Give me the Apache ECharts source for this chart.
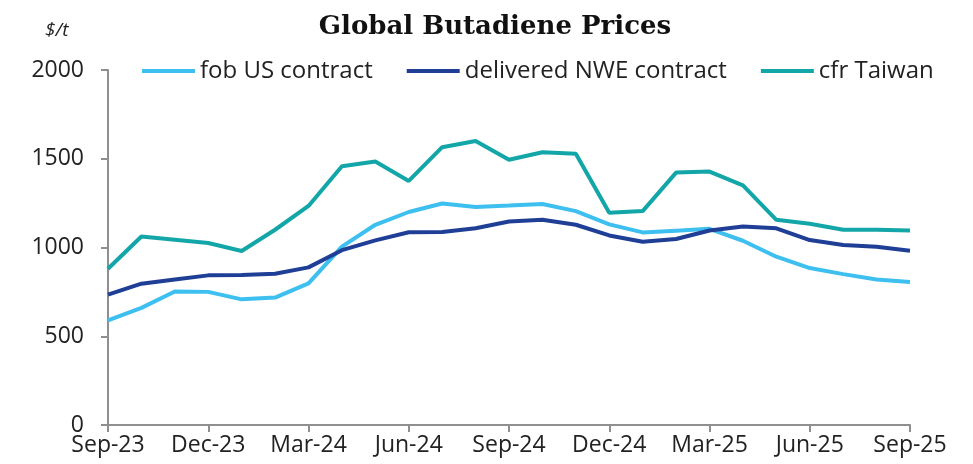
<!DOCTYPE html>
<html>
<head>
<meta charset="utf-8">
<title>Global Butadiene Prices</title>
<script src="https://cdn.jsdelivr.net/npm/echarts@6/dist/echarts.min.js"></script>
<style>
	html, body { margin: 0; padding: 0; background: #fff; }
	#chart { width: 973px; height: 464px; }
</style>
</head>
<body>
<div id="chart"></div>
<script>
// monthly, Sep-23 .. Sep-25
var months = ['Sep-23', 'Oct-23', 'Nov-23', 'Dec-23', 'Jan-24', 'Feb-24', 'Mar-24', 'Apr-24', 'May-24',
	'Jun-24', 'Jul-24', 'Aug-24', 'Sep-24', 'Oct-24', 'Nov-24', 'Dec-24', 'Jan-25', 'Feb-25', 'Mar-25',
	'Apr-25', 'May-25', 'Jun-25', 'Jul-25', 'Aug-25', 'Sep-25'];

var fobUS = [590, 660, 752, 750, 708, 718, 798, 1005, 1128, 1200, 1248, 1228, 1236, 1245, 1205,
	1130, 1085, 1095, 1105, 1038, 948, 884, 850, 820, 806];
var nweContract = [735, 796, 820, 843, 845, 852, 888, 985, 1040, 1086, 1087, 1108, 1146, 1156, 1128,
	1068, 1032, 1048, 1096, 1118, 1108, 1042, 1014, 1004, 982];
var cfrTaiwan = [880, 1062, 1044, 1025, 980, 1100, 1234, 1458, 1484, 1375, 1565, 1600, 1494, 1537, 1528,
	1196, 1205, 1422, 1428, 1350, 1156, 1134, 1100, 1100, 1096];

var seriesNames = ['fob US contract', 'delivered NWE contract', 'cfr Taiwan'];
var seriesColors = ['#3dbff0', '#1f3f96', '#13a6a8'];

var yTicks = [0, 500, 1000, 1500, 2000];

function initEchart(id, option) {
	var _echart = echarts.init(document.getElementById(id));
	_echart.setOption(option);
	return _echart;
}

function lineSeries(name, data, color) {
	return {
		name: name,
		type: 'line',
		data: data,
		symbol: 'none',
		smooth: false,
		lineStyle: { color: color, width: 4 },
		itemStyle: { color: color }
	};
}

var axisGrey = '#8f8f8f';
var labelFont = '"Open Sans", "Noto Sans", sans-serif';

var option = {
	animation: false,
	backgroundColor: '#fff',
	title: [{
		text: 'Global Butadiene Prices',
		left: 490,
		textAlign: 'center',
		top: 9,
		textStyle: {
			fontFamily: '"DejaVu Serif", serif',
			fontWeight: 'bold',
			fontSize: 26,
			color: '#111'
		}
	}, {
		text: '$/t',
		left: 40,
		top: 16,
		textStyle: {
			fontFamily: labelFont,
			fontStyle: 'italic',
			fontWeight: 'normal',
			fontSize: 19,
			color: '#222'
		}
	}],
	legend: {
		left: 137,
		top: 54,
		icon: 'rect',
		itemWidth: 53,
		itemHeight: 4,
		itemGap: 34,
		textStyle: { fontFamily: labelFont, fontSize: 24, color: '#222' },
		data: seriesNames
	},
	grid: { left: 108, right: 63, top: 70, bottom: 39, containLabel: false },
	xAxis: {
		type: 'category',
		data: months,
		boundaryGap: false,
		axisLine: { lineStyle: { color: axisGrey, width: 2 } },
		axisTick: { show: true, interval: 2, length: 7, lineStyle: { color: axisGrey, width: 2 } },
		axisLabel: {
			interval: 2,
			margin: 9,
			fontFamily: labelFont,
			fontSize: 23,
			color: '#222'
		},
		splitLine: { show: false }
	},
	yAxis: {
		type: 'value',
		min: yTicks[0],
		max: yTicks[yTicks.length - 1],
		interval: 500,
		axisLine: { show: true, lineStyle: { color: axisGrey, width: 2 } },
		axisTick: { show: true, length: 7, lineStyle: { color: axisGrey, width: 2 } },
		axisLabel: {
			margin: 24,
			fontFamily: labelFont,
			fontSize: 23,
			color: '#222',
			formatter: function(v) { return String(v); }
		},
		splitLine: { show: false }
	},
	series: [
		lineSeries(seriesNames[0], fobUS, seriesColors[0]),
		lineSeries(seriesNames[1], nweContract, seriesColors[1]),
		lineSeries(seriesNames[2], cfrTaiwan, seriesColors[2])
	]
};

initEchart('chart', option);
</script>
</body>
</html>
